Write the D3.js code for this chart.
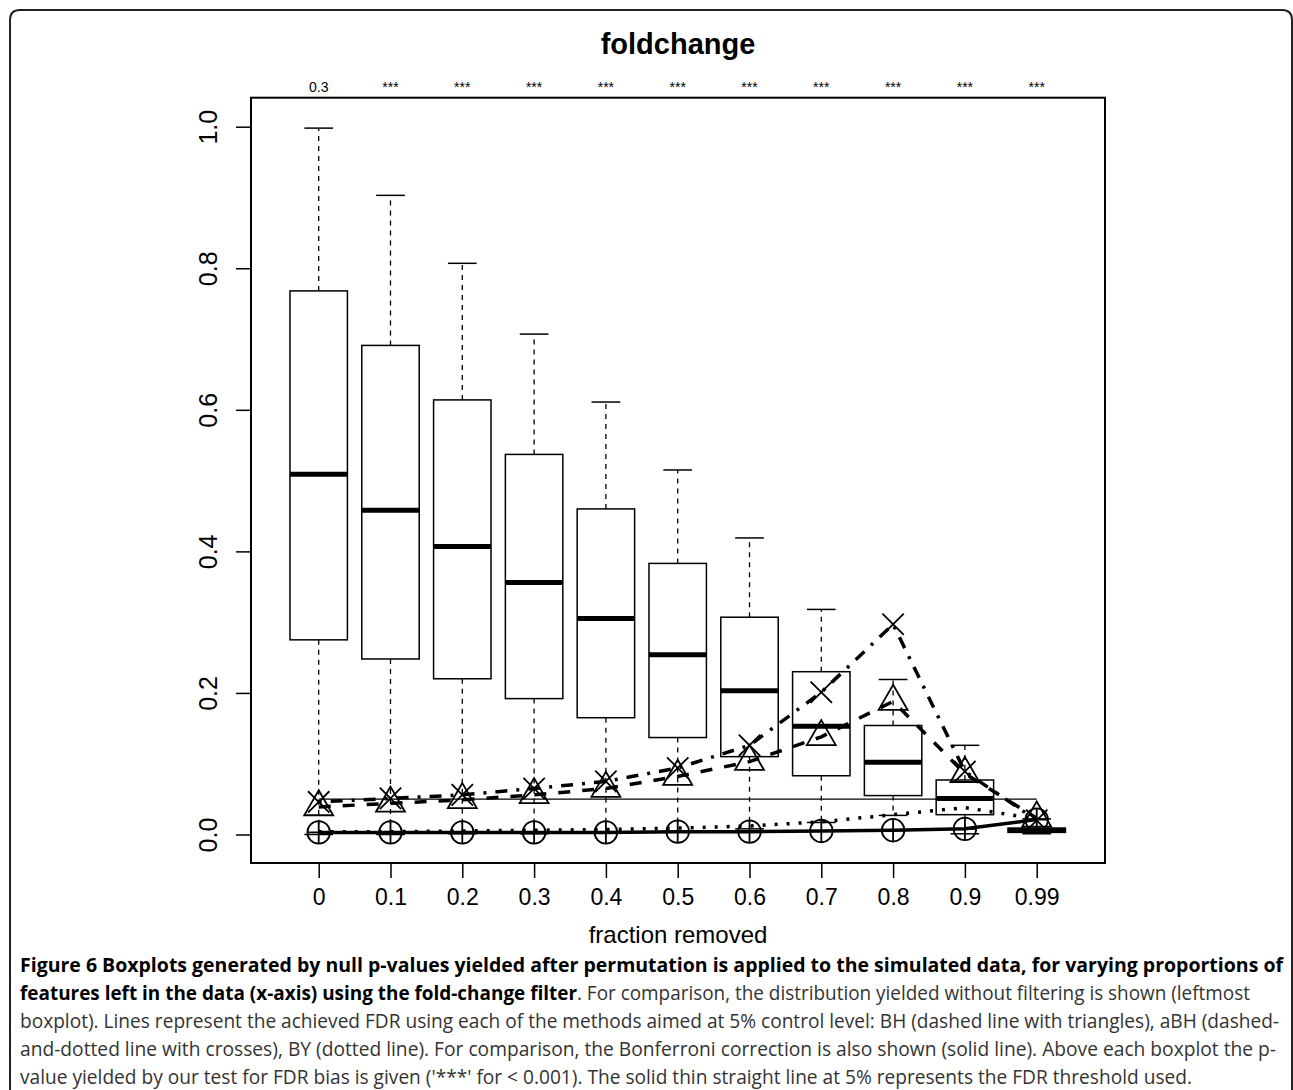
<!DOCTYPE html>
<html>
<head>
<meta charset="utf-8">
<script src="https://cdn.jsdelivr.net/npm/d3@7"></script>
<style>
  body { margin: 0; background: #fff; }
  svg text { font-family: "Liberation Sans", Arial, Helvetica, sans-serif; fill: #000; }
  svg text.caption { font-family: "Open Sans", sans-serif; }
</style>
</head>
<body>
<div id="chart"></div>
<script>
var fractions = ["0", "0.1", "0.2", "0.3", "0.4", "0.5", "0.6", "0.7", "0.8", "0.9", "0.99"],
    biasLabels = ["0.3", "***", "***", "***", "***", "***", "***", "***", "***", "***", "***"],
    yTicks = [0, 0.2, 0.4, 0.6, 0.8, 1.0];

// boxplot stats per fraction removed
var whiskerLow  = [0.000, 0.000, 0.001, 0.001, 0.002, 0.004, 0.008, 0.017, 0.027, 0.001, 0.001],
    q1          = [0.275, 0.248, 0.220, 0.192, 0.165, 0.137, 0.110, 0.083, 0.055, 0.028, 0.003],
    median      = [0.509, 0.458, 0.407, 0.356, 0.305, 0.254, 0.203, 0.153, 0.102, 0.051, 0.006],
    q3          = [0.768, 0.691, 0.614, 0.537, 0.460, 0.383, 0.307, 0.230, 0.154, 0.077, 0.009],
    whiskerHigh = [0.998, 0.903, 0.807, 0.707, 0.611, 0.515, 0.419, 0.318, 0.219, 0.126, 0.022];

// achieved FDR lines
var fdrBH   = [0.039, 0.044, 0.049, 0.056, 0.065, 0.082, 0.103, 0.138, 0.188, 0.086, 0.023],
    fdrABH  = [0.046, 0.051, 0.056, 0.065, 0.075, 0.094, 0.126, 0.201, 0.297, 0.089, 0.020],
    fdrBY   = [0.004, 0.004, 0.005, 0.006, 0.007, 0.009, 0.012, 0.018, 0.028, 0.038, 0.022],
    fdrBonf = [0.003, 0.003, 0.003, 0.003, 0.003, 0.004, 0.004, 0.005, 0.006, 0.008, 0.021],
    threshold = 0.05;

var captionLines = [
  [["b", "Figure 6 Boxplots generated by null p-values yielded after permutation is applied to the simulated data, for varying proportions of"]],
  [["b", "features left in the data (x-axis) using the fold-change filter"], ["r", ". For comparison, the distribution yielded without filtering is shown (leftmost"]],
  [["r", "boxplot). Lines represent the achieved FDR using each of the methods aimed at 5% control level: BH (dashed line with triangles), aBH (dashed-"]],
  [["r", "and-dotted line with crosses), BY (dotted line). For comparison, the Bonferroni correction is also shown (solid line). Above each boxplot the p-"]],
  [["r", "value yielded by our test for FDR bias is given ('***' for < 0.001). The solid thin straight line at 5% represents the FDR threshold used."]]
];
var captionWidths = [1263, 1230, 1259, 1256, 1172];

var width = 1293, height = 1090,
    plot = { left: 251, right: 1105, top: 97.7, bottom: 863 };

var svg = d3.select("#chart").append("svg")
    .attr("width", width)
    .attr("height", height);

// outer frame with rounded top corners
svg.append("path")
    .attr("d", "M10,1100 V20 Q10,10 20,10 H1282 Q1292,10 1292,20 V1100")
    .style("fill", "none")
    .style("stroke", "#222")
    .style("stroke-width", 2);

var x = d3.scalePoint()
    .domain(fractions)
    .range([318.7, 1036.7]);

var y = d3.scaleLinear()
    .domain([0, 1])
    .range([834.5, 126.7]);

var step = x.step(),
    boxW = step * 0.8;

// title
svg.append("text")
    .attr("x", (plot.left + plot.right) / 2)
    .attr("y", 54)
    .style("text-anchor", "middle")
    .style("font-size", "29px")
    .style("font-weight", "bold")
    .text("foldchange");

// p-values of the bias test above each box
svg.selectAll(".bias")
    .data(fractions)
    .enter().append("text")
      .attr("class", "bias")
      .attr("x", function(d) { return x(d); })
      .attr("y", 92)
      .style("text-anchor", "middle")
      .style("font-size", "14px")
      .text(function(d, i) { return biasLabels[i]; });

// y axis
var yAxis = svg.append("g")
    .attr("transform", "translate(" + plot.left + ",0)")
    .call(d3.axisLeft(y).tickValues(yTicks).tickSize(15).tickFormat(d3.format(".1f")));
yAxis.select(".domain").remove();
yAxis.selectAll(".tick line").style("stroke", "#000").style("stroke-width", 1.5);
yAxis.selectAll(".tick text")
    .attr("x", null).attr("dy", null)
    .attr("transform", "translate(-34,0) rotate(-90)")
    .style("text-anchor", "middle")
    .style("font-size", "25px")
    .style("font-family", "'Liberation Sans', Arial, sans-serif");

// x axis
var xAxis = svg.append("g")
    .attr("transform", "translate(0," + plot.bottom + ")")
    .call(d3.axisBottom(x).tickSize(15).tickPadding(10));
xAxis.select(".domain").remove();
xAxis.selectAll(".tick line").style("stroke", "#000").style("stroke-width", 1.5);
xAxis.selectAll(".tick text")
    .attr("dy", null)
    .attr("y", 42)
    .style("font-size", "23px")
    .style("font-family", "'Liberation Sans', Arial, sans-serif");

svg.append("text")
    .attr("x", (plot.left + plot.right) / 2)
    .attr("y", 943)
    .style("text-anchor", "middle")
    .style("font-size", "24px")
    .text("fraction removed");

// boxplots
var boxes = svg.selectAll(".box")
    .data(fractions)
    .enter().append("g")
      .attr("class", "box");

boxes.append("line")
    .attr("x1", function(d) { return x(d); })
    .attr("x2", function(d) { return x(d); })
    .attr("y1", function(d, i) { return y(q3[i]); })
    .attr("y2", function(d, i) { return y(whiskerHigh[i]); })
    .style("stroke", "#000").style("stroke-width", 1.3).style("stroke-dasharray", "5,5");

boxes.append("line")
    .attr("x1", function(d) { return x(d); })
    .attr("x2", function(d) { return x(d); })
    .attr("y1", function(d, i) { return y(q1[i]); })
    .attr("y2", function(d, i) { return y(whiskerLow[i]); })
    .style("stroke", "#000").style("stroke-width", 1.3).style("stroke-dasharray", "5,5");

[whiskerHigh, whiskerLow].forEach(function(arr) {
  boxes.append("line")
      .attr("x1", function(d) { return x(d) - boxW / 4; })
      .attr("x2", function(d) { return x(d) + boxW / 4; })
      .attr("y1", function(d, i) { return y(arr[i]); })
      .attr("y2", function(d, i) { return y(arr[i]); })
      .style("stroke", "#000").style("stroke-width", 1.5);
});

boxes.append("rect")
    .attr("x", function(d) { return x(d) - boxW / 2; })
    .attr("y", function(d, i) { return y(q3[i]); })
    .attr("width", boxW)
    .attr("height", function(d, i) { return y(q1[i]) - y(q3[i]); })
    .style("fill", "none")
    .style("stroke", "#000").style("stroke-width", 1.5);

boxes.append("line")
    .attr("x1", function(d) { return x(d) - boxW / 2; })
    .attr("x2", function(d) { return x(d) + boxW / 2; })
    .attr("y1", function(d, i) { return y(median[i]); })
    .attr("y2", function(d, i) { return y(median[i]); })
    .style("stroke", "#000").style("stroke-width", 5);

// 5% threshold line
svg.append("line")
    .attr("x1", x(fractions[0]))
    .attr("x2", x(fractions[fractions.length - 1]))
    .attr("y1", y(threshold))
    .attr("y2", y(threshold))
    .style("stroke", "#000").style("stroke-width", 1.3);

function drawSeries(values, dash, symbols) {
  var line = d3.line()
      .x(function(d, i) { return x(fractions[i]); })
      .y(function(d) { return y(d); });

  svg.append("path")
      .datum(values)
      .attr("d", line)
      .style("fill", "none")
      .style("stroke", "#000")
      .style("stroke-width", 3.5)
      .style("stroke-dasharray", dash);

  symbols.forEach(function(sym) {
    svg.selectAll(null)
        .data(values)
        .enter().append("path")
          .attr("transform", function(d, i) { return "translate(" + x(fractions[i]) + "," + y(d) + ")"; })
          .attr("d", d3.symbol().type(sym[0]).size(sym[1]))
          .style("fill", "none")
          .style("stroke", "#000")
          .style("stroke-width", 1.8);
  });
}

drawSeries(fdrBH, "12,12", [[d3.symbolTriangle, 362]]);
drawSeries(fdrABH, "3,9,12,9", [[d3.symbolTimes, 300]]);
drawSeries(fdrBY, "3,9", []);
drawSeries(fdrBonf, null, [[d3.symbolCircle, 400], [d3.symbolPlus, 170]]);

// plot frame
svg.append("rect")
    .attr("x", plot.left)
    .attr("y", plot.top)
    .attr("width", plot.right - plot.left)
    .attr("height", plot.bottom - plot.top)
    .style("fill", "none")
    .style("stroke", "#000")
    .style("stroke-width", 2);

// caption, each line stretched to the width it has in the figure
var caption = svg.selectAll(".caption")
    .data(captionLines)
    .enter().append("text")
      .attr("class", "caption")
      .attr("x", 20)
      .attr("y", function(d, i) { return 972 + i * 28; })
      .attr("textLength", function(d, i) { return captionWidths[i]; })
      .attr("lengthAdjust", "spacingAndGlyphs")
      .style("font-size", "19.5px");

caption.selectAll("tspan")
    .data(function(d) { return d; })
    .enter().append("tspan")
      .style("font-weight", function(d) { return d[0] === "b" ? "bold" : "normal"; })
      .style("fill", function(d) { return d[0] === "b" ? "#000" : "#333"; })
      .text(function(d) { return d[1]; });
</script>
</body>
</html>
